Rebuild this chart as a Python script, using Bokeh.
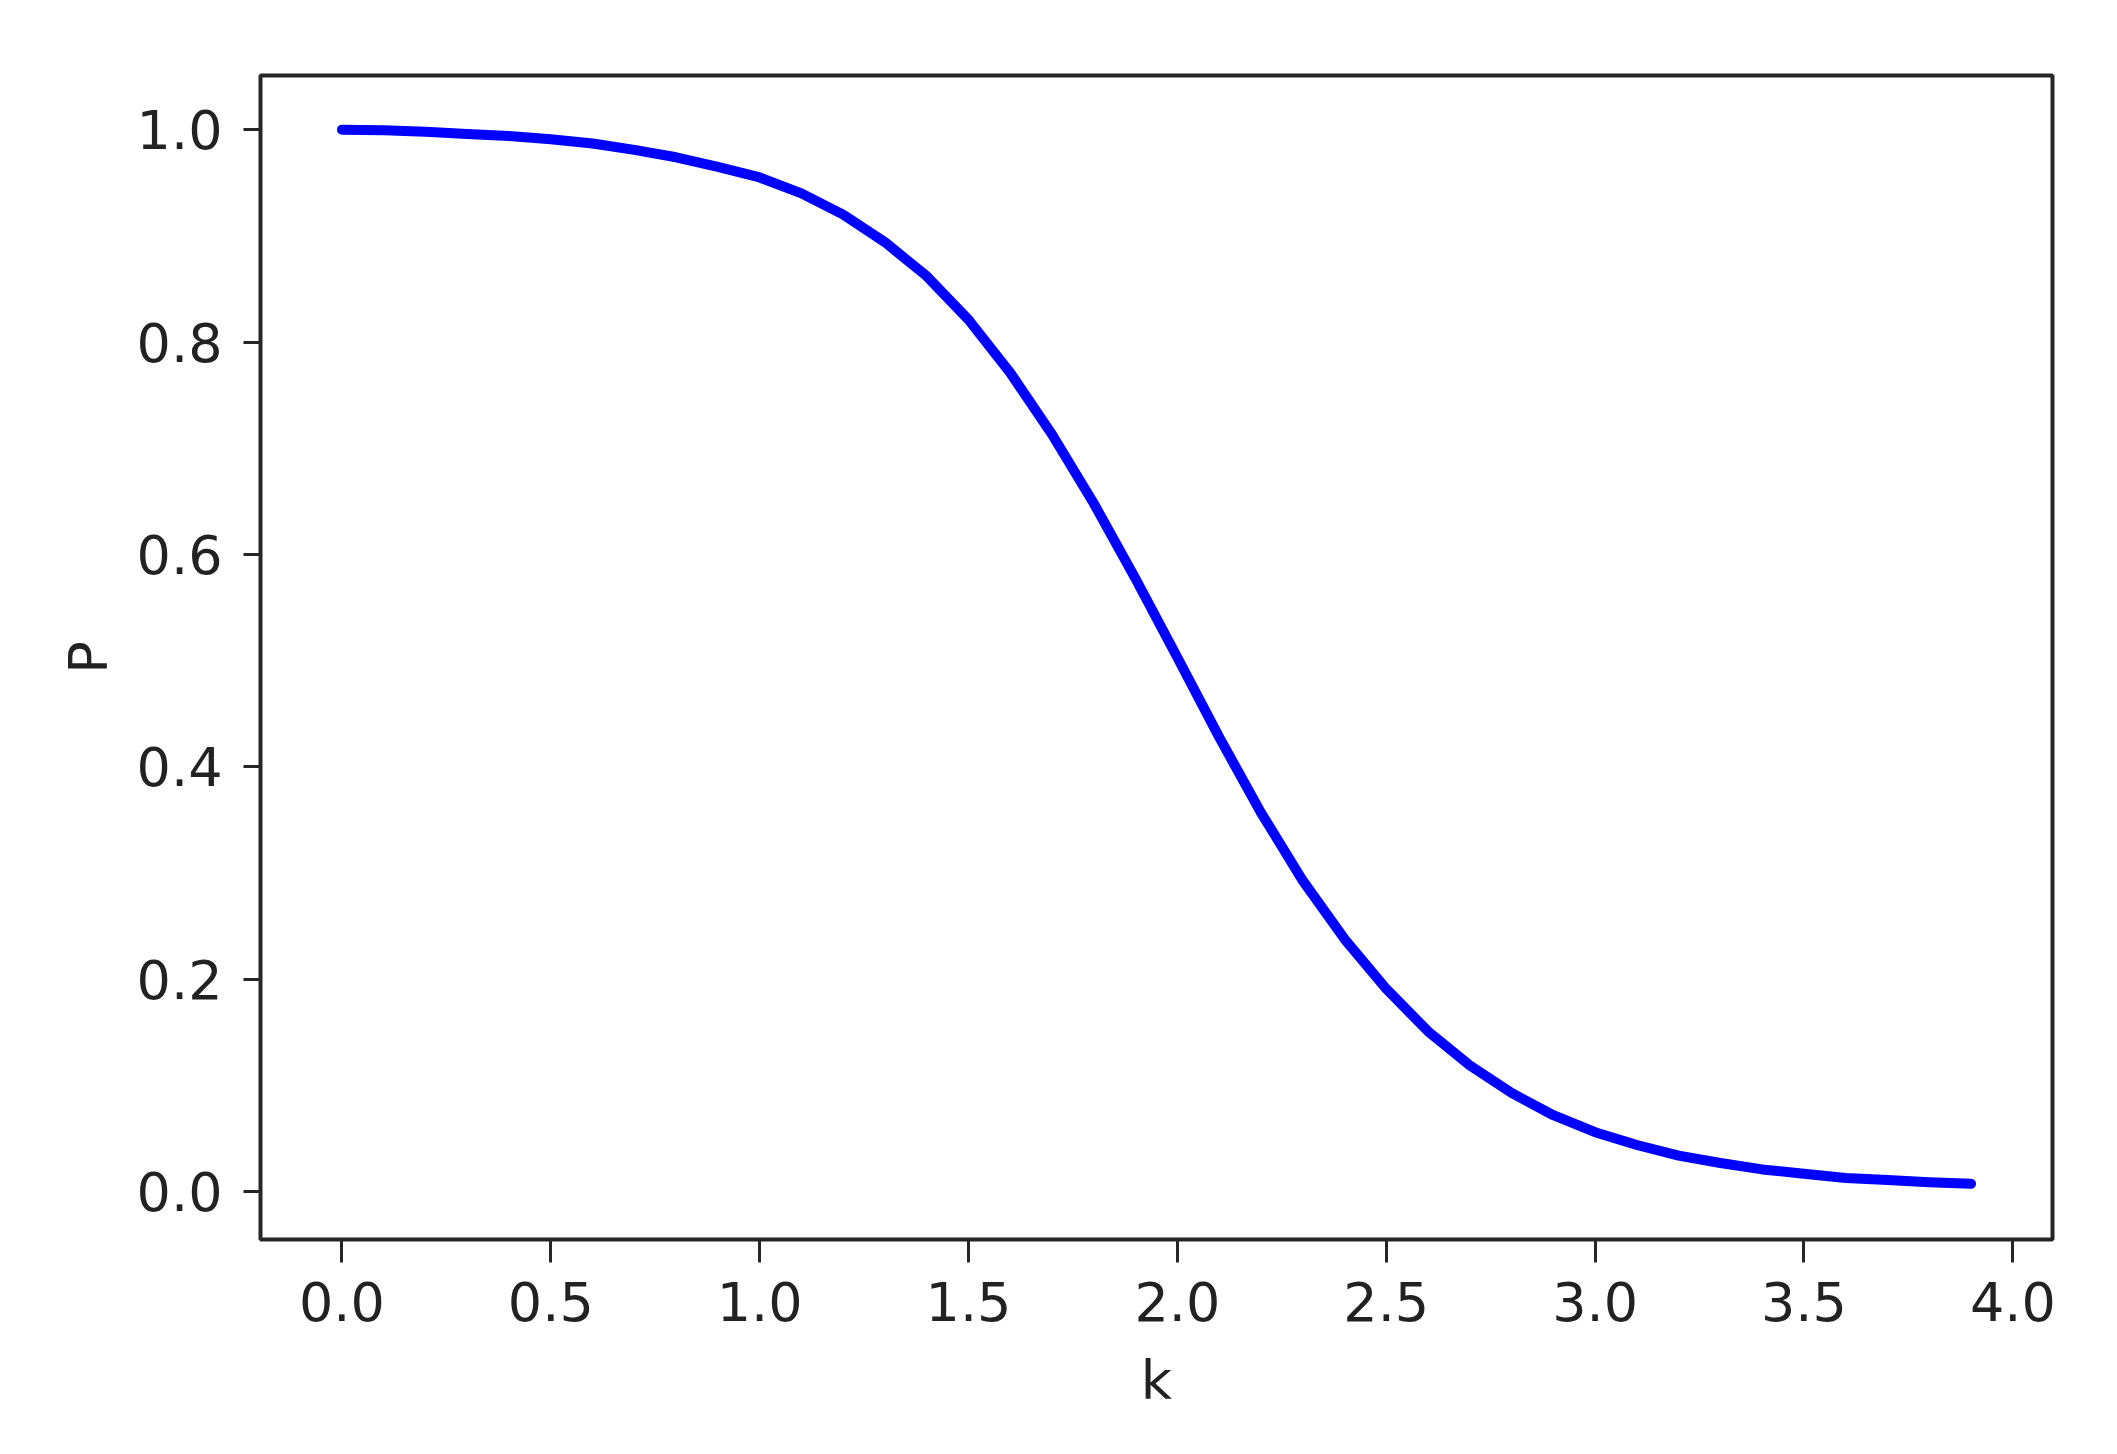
from bokeh.plotting import figure
from bokeh.models import Range1d, FixedTicker, PrintfTickFormatter, ColumnDataSource
from bokeh.embed import file_html
from bokeh.resources import INLINE

# Data
k_values = [0.0, 0.1, 0.2, 0.3, 0.4, 0.5, 0.6, 0.7, 0.8, 0.9,
            1.0, 1.1, 1.2, 1.3, 1.4, 1.5, 1.6, 1.7, 1.8, 1.9,
            2.0, 2.1, 2.2, 2.3, 2.4, 2.5, 2.6, 2.7, 2.8, 2.9,
            3.0, 3.1, 3.2, 3.3, 3.4, 3.5, 3.6, 3.7, 3.8, 3.9]
p_values = [1.000, 0.9995, 0.998, 0.996, 0.994, 0.991, 0.987, 0.981, 0.974, 0.965,
            0.955, 0.940, 0.920, 0.894, 0.862, 0.821, 0.771, 0.713, 0.648, 0.577,
            0.503, 0.428, 0.357, 0.293, 0.238, 0.191, 0.151, 0.119, 0.093, 0.072,
            0.056, 0.044, 0.034, 0.027, 0.021, 0.017, 0.013, 0.011, 0.009, 0.0075]
x_ticks = [0.0, 0.5, 1.0, 1.5, 2.0, 2.5, 3.0, 3.5, 4.0]
y_ticks = [0.0, 0.2, 0.4, 0.6, 0.8, 1.0]

FONT = "DejaVu Sans"
TEXT_COLOR = "#222222"

src = ColumnDataSource(data=dict(k=k_values, p=p_values))

p = figure(width=2101, height=1438, output_backend="svg", toolbar_location=None,
           x_range=Range1d(-0.195, 4.095), y_range=Range1d(-0.045, 1.051),
           min_border_left=260, min_border_top=75, min_border_right=49, min_border_bottom=199)

p.line(x="k", y="p", source=src, line_color="#0000ff", line_width=10,
       line_cap="round", line_join="round")

p.xgrid.visible = False
p.ygrid.visible = False
p.background_fill_color = "white"
p.border_fill_color = "white"
p.outline_line_color = "#262626"
p.outline_line_width = 4
p.outline_line_alpha = 1.0

p.xaxis.ticker = FixedTicker(ticks=x_ticks)
p.yaxis.ticker = FixedTicker(ticks=y_ticks)
p.xaxis.formatter = PrintfTickFormatter(format="%.1f")
p.yaxis.formatter = PrintfTickFormatter(format="%.1f")

for ax in (p.xaxis[0], p.yaxis[0]):
    ax.axis_line_color = None
    ax.major_tick_line_color = "#262626"
    ax.major_tick_line_width = 3
    ax.minor_tick_line_color = None
    ax.major_tick_in = 0
    ax.major_label_text_font = FONT
    ax.major_label_text_font_size = "54px"
    ax.major_label_text_color = TEXT_COLOR
    ax.axis_label_text_font = FONT
    ax.axis_label_text_font_size = "54px"
    ax.axis_label_text_font_style = "normal"
    ax.axis_label_text_color = TEXT_COLOR

p.xaxis.major_tick_out = 23
p.yaxis.major_tick_out = 17
p.xaxis.major_label_standoff = 19
p.yaxis.major_label_standoff = 21
p.xaxis.axis_label = "k"
p.yaxis.axis_label = "P"
p.xaxis.axis_label_standoff = 25
p.yaxis.axis_label_standoff = 14

open("out.html", "w").write(file_html(p, INLINE))
